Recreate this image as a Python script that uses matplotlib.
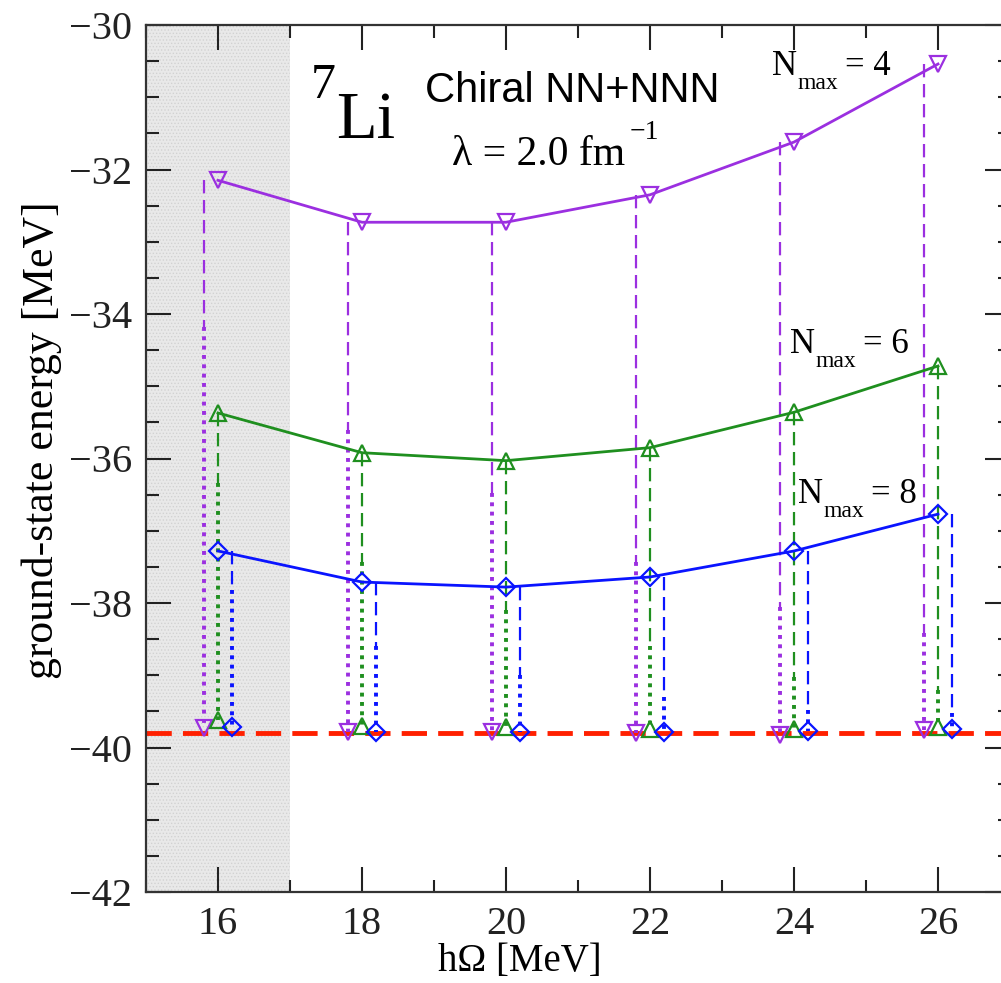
import matplotlib
matplotlib.use("Agg")
import matplotlib.pyplot as plt
from matplotlib.ticker import MultipleLocator

# ---------------- data ----------------
hw = [16, 18, 20, 22, 24, 26]
E4 = [-32.15, -32.73, -32.73, -32.35, -31.62, -30.54]
E6 = [-35.37, -35.92, -36.03, -35.85, -35.36, -34.72]
E8 = [-37.28, -37.71, -37.78, -37.64, -37.28, -36.77]
# where the dashed part of the drop line ends (dotted part starts)
T4 = [-34.18, -35.60, -36.48, -37.43, -38.05, -38.42]
T6 = [-36.34, -37.43, -38.10, -38.60, -39.02, -39.20]
T8 = [-37.82, -38.60, -39.00, -39.30, -39.48, -39.52]
# extrapolated energies
B4 = [-39.73, -39.78, -39.79, -39.80, -39.83, -39.76]
B6 = [-39.62, -39.70, -39.72, -39.75, -39.75, -39.72]
B8 = [-39.71, -39.79, -39.78, -39.79, -39.77, -39.75]
E_inf = -39.8
labels = ["4", "6", "8"]

plt.rcParams['hatch.linewidth'] = 0.6
serif = ['Liberation Serif', 'DejaVu Serif']

W, H = 1001, 983
fig = plt.figure(figsize=(W / 100, H / 100), dpi=100)
x0, x1, y0, y1 = 146, 1010, 25, 892
ax = fig.add_axes([x0 / W, 1 - y1 / H, (x1 - x0) / W, (y1 - y0) / H])
ax.set_xlim(15, 27)
ax.set_ylim(-42, -30)

ax.axvspan(15, 17, facecolor='#e9e9e9', edgecolor='#d2d2d2', hatch='.....', lw=0, zorder=0)

colors = ['#9b2fe0', '#1f8f1f', '#0a14ff']
markers = ['v', '^', 'D']
msizes = [11.5, 11.5, 9]
offsets = [-0.2, 0.0, 0.2]
series = [(E4, T4, B4), (E6, T6, B6), (E8, T8, B8)]

ax.axhline(E_inf, color='#ff2000', lw=3.5, ls=(0, (5.2, 2.3)), zorder=2)

for (E, T, B), c, m, ms, dx in zip(series, colors, markers, msizes, offsets):
    ax.plot(hw, E, color=c, lw=2.0, marker=m, ms=ms, mfc='none', mec=c, mew=1.6, zorder=4)
    xs = [h + dx for h in hw]
    for xv, e, t, b in zip(xs, E, T, B):
        ax.plot([xv, xv], [e, t], color=c, lw=1.6, ls=(0, (6, 3)), zorder=3)
        ax.plot([xv, xv], [t, b], color=c, lw=2.8, ls=(0, (1, 1.4)), zorder=3)
    ax.plot(xs, B, ls='none', marker=m, ms=ms, mfc='none', mec=c, mew=1.6, zorder=5)

ax.xaxis.set_major_locator(MultipleLocator(2))
ax.xaxis.set_minor_locator(MultipleLocator(1))
ax.yaxis.set_major_locator(MultipleLocator(2))
ax.yaxis.set_minor_locator(MultipleLocator(0.5))
ax.tick_params(which='both', direction='in', top=True, right=True, width=1.5, colors='#222222')
ax.tick_params(which='major', length=18, pad=10)
ax.tick_params(which='minor', length=9)
for s in ax.spines.values():
    s.set_linewidth(1.6)
    s.set_color('#333333')
for lab in ax.get_xticklabels() + ax.get_yticklabels():
    lab.set_fontfamily(serif)
    lab.set_fontsize(29)

ax.set_xlabel('hΩ [MeV]', family=serif, fontsize=28)
ax.xaxis.set_label_coords((520 - x0) / (x1 - x0), (y1 - 943) / (y1 - y0))
ax.set_ylabel('ground-state energy [MeV]', family=serif, fontsize=31.5)
ax.yaxis.set_label_coords((62 - x0) / (x1 - x0), (y1 - 440) / (y1 - y0))

def ftext(px, py, s, **kw):
    fig.text(px / W, 1 - py / H, s, **kw)

ftext(311, 98, '7', family=serif, fontsize=36, va='baseline', ha='left')
ftext(336, 138, 'Li', family=serif, fontsize=48, va='baseline', ha='left')
ftext(425, 102, 'Chiral NN+NNN', family=['Liberation Sans', 'DejaVu Sans'], fontsize=30,
      va='baseline', ha='left')
ftext(452, 165, 'λ = 2.0 fm', family=serif, fontsize=30, va='baseline', ha='left')
ftext(630, 139, '\u22121', family=serif, fontsize=20, va='baseline', ha='left')

for lab, (px, py) in zip(labels, [(772, 75), (790, 353), (798, 503)]):
    ftext(px, py, 'N', family=serif, fontsize=25, va='baseline', ha='left')
    ftext(px + 25, py + 14, 'max', family=serif, fontsize=17, va='baseline', ha='left')
    ftext(px + 73, py, '= ' + lab, family=serif, fontsize=25, va='baseline', ha='left')

fig.savefig('out.png', dpi=100)
